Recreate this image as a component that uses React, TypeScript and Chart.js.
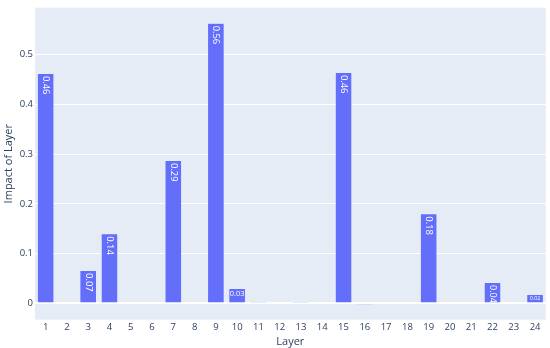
import React, { useEffect, useRef } from "react";
import { Chart, registerables } from "chart.js";

Chart.register(...registerables);

const layers: string[] = [
  "1", "2", "3", "4", "5", "6", "7", "8", "9", "10", "11", "12",
  "13", "14", "15", "16", "17", "18", "19", "20", "21", "22", "23", "24",
];
const impact: number[] = [
  0.462, 0, 0.066, 0.14, 0, 0.002, 0.287, 0, 0.563, 0.03, 0.001, 0,
  0.001, 0, 0.464, -0.001, 0, 0, 0.18, 0, 0, 0.042, 0, 0.018,
];
const yTicks: number[] = [0, 0.1, 0.2, 0.3, 0.4, 0.5];

const FONT = '"Open Sans", "DejaVu Sans", sans-serif';
const TEXT_COLOR = "#2a3f5f";
const BAR_COLOR = "#636efa";

const labelPlugin = {
  id: "barLabels",
  afterDatasetsDraw(chart: any) {
    const ctx = chart.ctx as CanvasRenderingContext2D;
    const meta = chart.getDatasetMeta(0);
    meta.data.forEach((el: any, i: number) => {
      const v = impact[i];
      const p = el.getProps(["x", "y", "base", "width"], true);
      const h = Math.abs(p.base - p.y);
      if (h < 6) return;
      const text = v.toFixed(2);
      const fs = 9.4;
      ctx.save();
      ctx.font = `${fs}px ${FONT}`;
      const tw = ctx.measureText(text).width;
      const th = fs * 1.1;
      const pad = 1;
      const sR = Math.min(1, (h - 2 * pad) / tw, (p.width - 2 * pad) / th);
      const sH = Math.min(1, (p.width - 2 * pad) / tw, (h - 2 * pad) / th);
      ctx.fillStyle = "#ffffff";
      const top = Math.min(p.y, p.base);
      if (sR >= sH) {
        const s = sR;
        ctx.font = `${fs * s}px ${FONT}`;
        ctx.translate(p.x, top + 2.5);
        ctx.rotate(Math.PI / 2);
        ctx.textAlign = "left";
        ctx.textBaseline = "middle";
        ctx.fillText(text, 0, 0);
      } else {
        const s = sH;
        ctx.font = `${fs * s}px ${FONT}`;
        ctx.textAlign = "center";
        ctx.textBaseline = "middle";
        ctx.fillText(text, p.x, top + pad + (th * s) / 2 + 0.5);
      }
      ctx.restore();
    });
  },
};

export default function App() {
  const ref = useRef<HTMLCanvasElement | null>(null);
  useEffect(() => {
    if (!ref.current) return;
    const chart = new Chart(ref.current, {
      type: "bar",
      data: {
        labels: layers,
        datasets: [
          {
            data: impact,
            backgroundColor: BAR_COLOR,
            borderColor: "#e5ecf6",
            borderWidth: 0.5,
            barPercentage: 0.78,
            categoryPercentage: 1,
          },
        ],
      },
      options: {
        animation: false,
        responsive: false,
        layout: { padding: { top: 5, right: 4.3, left: 0, bottom: 0 } },
        plugins: { legend: { display: false }, tooltip: { enabled: false } },
        scales: {
          x: {
            type: "category",
            offset: true,
            grid: { display: false, drawTicks: false },
            border: { display: false },
            ticks: {
              color: TEXT_COLOR,
              font: { family: FONT, size: 9.5 },
              padding: 2,
              maxRotation: 0,
              autoSkip: false,
            },
            title: {
              display: true,
              text: "Layer",
              color: TEXT_COLOR,
              font: { family: FONT, size: 11 },
              padding: { top: 0, bottom: 0 },
            },
            afterFit(scale: any) {
              scale.height = 28.3;
            },
          },
          y: {
            min: -0.0327,
            max: 0.594,
            grid: {
              color: "#ffffff",
              lineWidth: (c: any) => (c.tick && c.tick.value === 0 ? 2 : 1),
              drawTicks: false,
            },
            border: { display: false },
            afterBuildTicks(scale: any) {
              scale.ticks = yTicks.map((v) => ({ value: v }));
            },
            ticks: {
              color: TEXT_COLOR,
              font: { family: FONT, size: 9.5 },
              padding: 2,
              callback: (v: any) => (Number(v) === 0 ? "0" : Number(v).toFixed(1)),
            },
            title: {
              display: true,
              text: "Impact of Layer",
              color: TEXT_COLOR,
              font: { family: FONT, size: 11 },
              padding: { top: 2, bottom: 0 },
            },
            afterFit(scale: any) {
              scale.width = 35;
            },
          },
        },
      },
      plugins: [
        {
          id: "plotBg",
          beforeDraw(chart: any) {
            const a = chart.chartArea;
            const c = chart.ctx;
            c.save();
            c.fillStyle = "#e5ecf6";
            c.fillRect(a.left, a.top, a.right - a.left, a.bottom - a.top);
            c.restore();
          },
        },
        labelPlugin,
      ],
    });
    return () => chart.destroy();
  }, []);
  return (
    <div style={{ position: "fixed", left: 0, top: 0, width: 550, height: 348, background: "#fff" }}>
      <canvas ref={ref} width={550} height={348} />
    </div>
  );
}
